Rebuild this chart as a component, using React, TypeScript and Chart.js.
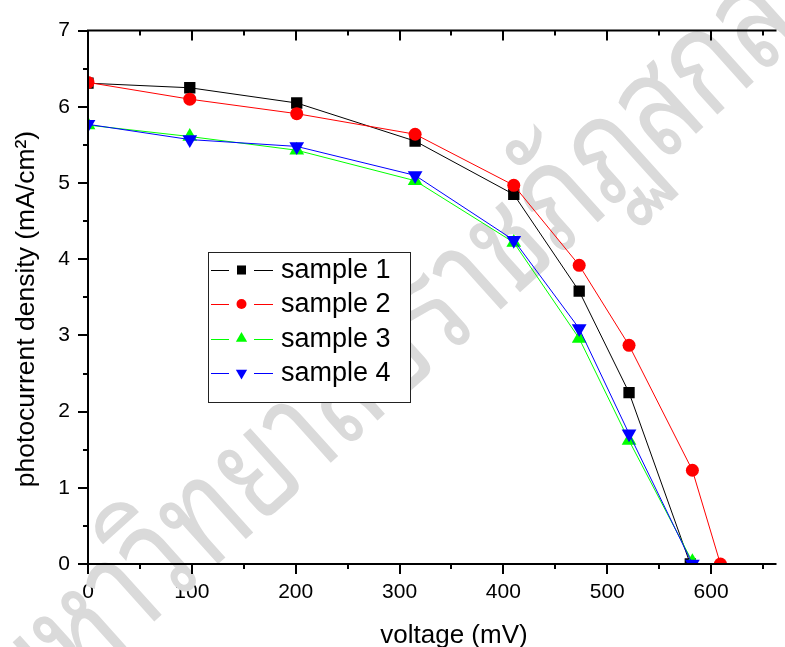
import React, { useEffect, useRef } from "react";
import { Chart, registerables } from "chart.js";

Chart.register(...registerables);

// ---- data ----
const seriesNames = ["sample 1", "sample 2", "sample 3", "sample 4"];
const voltage1 = [0, 98, 201, 315, 410, 473, 521, 580];
const current1 = [6.31, 6.25, 6.05, 5.55, 4.85, 3.58, 2.25, 0];
const voltage2 = [0, 98, 201, 315, 410, 473, 521, 582, 609];
const current2 = [6.32, 6.1, 5.91, 5.64, 4.97, 3.92, 2.87, 1.23, 0];
const voltage3 = [0, 98, 201, 315, 410, 473, 521, 582];
const current3 = [5.76, 5.61, 5.43, 5.03, 4.22, 2.96, 1.62, 0.03];
const voltage4 = [0, 98, 201, 315, 410, 473, 521, 582];
const current4 = [5.77, 5.57, 5.48, 5.1, 4.25, 3.09, 1.71, 0];

const xMajorTicks = [0, 100, 200, 300, 400, 500, 600];
const xMinorTicks = [50, 150, 250, 350, 450, 550, 650];
const yMajorTicks = [0, 1, 2, 3, 4, 5, 6, 7];
const yMinorTicks = [0.5, 1.5, 2.5, 3.5, 4.5, 5.5, 6.5];

const xTitle = "voltage (mV)";
const yTitle = "photocurrent density (mA/cm²)";
const watermarkPrefix = "มหาวิ";
const watermarkRest = "ทยาลัยราชภัฏสกลนคร";

const colors = ["#000000", "#ff0000", "#00ff00", "#0000ff"];
const pointStyles = ["rect", "circle", "triangle", "triangle"];
const pointRotations = [0, 0, 0, 180];
const pointRadii = [8, 6.5, 8.5, 8.5];

const FONT = "Arial, 'Liberation Sans', sans-serif";
const THAI_FONT =
  "'Noto Sans Thai Looped', 'Noto Serif Thai', Tahoma, Loma, Garuda, Norasi, Sawasdee, 'Noto Sans Thai', sans-serif";

function drawMarker(ctx: CanvasRenderingContext2D, style: string, rot: number, x: number, y: number, r: number) {
  ctx.beginPath();
  if (style === "rect") {
    const s = Math.SQRT1_2 * r;
    ctx.rect(x - s, y - s, 2 * s, 2 * s);
  } else if (style === "circle") {
    ctx.arc(x, y, r, 0, Math.PI * 2);
  } else {
    const sgn = rot === 180 ? -1 : 1;
    const w = r * Math.sin(Math.PI / 3);
    ctx.moveTo(x, y - sgn * r);
    ctx.lineTo(x + w, y + sgn * r / 2);
    ctx.lineTo(x - w, y + sgn * r / 2);
    ctx.closePath();
  }
  ctx.fill();
}

const decorPlugin = {
  id: "decor",
  beforeDatasetsDraw(chart: any) {
    const ctx: CanvasRenderingContext2D = chart.ctx;
    const ang = (42 * Math.PI) / 180;
    ctx.save();
    ctx.font = `110px ${THAI_FONT}`;
    const w = ctx.measureText(watermarkPrefix).width;
    const ox = 207 - w * Math.cos(ang);
    const oy = 574 + w * Math.sin(ang);
    ctx.translate(ox, oy);
    ctx.rotate(-ang);
    ctx.scale(1, 1.3);
    ctx.fillStyle = "#dadada";
    ctx.textAlign = "left";
    ctx.textBaseline = "alphabetic";
    ctx.fillText(watermarkPrefix + watermarkRest, 0, 0);
    ctx.restore();
  },
  afterDatasetsDraw(chart: any) {
    const ctx: CanvasRenderingContext2D = chart.ctx;
    const { left, right, top, bottom } = chart.chartArea;
    const xs = chart.scales.x;
    const ys = chart.scales.y;
    ctx.save();
    ctx.strokeStyle = "#000";
    ctx.lineWidth = 2;
    ctx.beginPath();
    ctx.moveTo(right, top);
    ctx.lineTo(left, top);
    ctx.lineTo(left, bottom);
    ctx.lineTo(right, bottom);
    ctx.stroke();
    ctx.beginPath();
    xMajorTicks.forEach((v) => {
      const p = Math.round(xs.getPixelForValue(v));
      ctx.moveTo(p, bottom);
      ctx.lineTo(p, bottom + 10);
      ctx.moveTo(p, top);
      ctx.lineTo(p, top + 10);
    });
    xMinorTicks.forEach((v) => {
      const p = Math.round(xs.getPixelForValue(v));
      ctx.moveTo(p, bottom);
      ctx.lineTo(p, bottom + 5);
      ctx.moveTo(p, top);
      ctx.lineTo(p, top + 5);
    });
    yMajorTicks.forEach((v) => {
      const p = Math.round(ys.getPixelForValue(v));
      ctx.moveTo(left - 10, p);
      ctx.lineTo(left, p);
    });
    yMinorTicks.forEach((v) => {
      const p = Math.round(ys.getPixelForValue(v));
      ctx.moveTo(left - 5, p);
      ctx.lineTo(left, p);
    });
    ctx.stroke();

    // axis titles
    ctx.fillStyle = "#000";
    ctx.font = `26px ${FONT}`;
    ctx.textAlign = "center";
    ctx.textBaseline = "alphabetic";
    ctx.fillText(xTitle, 454, 643);
    ctx.save();
    ctx.translate(34, 309);
    ctx.rotate(-Math.PI / 2);
    ctx.font = `26.5px ${FONT}`;
    ctx.fillText(yTitle, 0, 0);
    ctx.restore();

    // legend
    const lx = 208, ly = 252, lw = 202, lh = 150;
    ctx.fillStyle = "#fff";
    ctx.fillRect(lx, ly, lw, lh);
    ctx.lineWidth = 1;
    ctx.strokeStyle = "#222";
    ctx.strokeRect(lx + 0.5, ly + 0.5, lw, lh);
    const rowY = [270, 304, 338.5, 373];
    const legendR = [6.4, 5, 6.5, 6.5];
    chart.data.datasets.forEach((ds: any, i: number) => {
      const yy = rowY[i];
      ctx.strokeStyle = colors[i];
      ctx.lineWidth = 1;
      ctx.beginPath();
      ctx.moveTo(211, Math.round(yy) + 0.5);
      ctx.lineTo(229, Math.round(yy) + 0.5);
      ctx.moveTo(254, Math.round(yy) + 0.5);
      ctx.lineTo(273, Math.round(yy) + 0.5);
      ctx.stroke();
      ctx.fillStyle = colors[i];
      drawMarker(ctx, pointStyles[i], pointRotations[i], 241.5, yy, legendR[i]);
      ctx.fillStyle = "#000";
      ctx.font = `27px ${FONT}`;
      ctx.textAlign = "left";
      ctx.textBaseline = "middle";
      ctx.fillText(ds.label, 281, yy + 1);
    });
    ctx.restore();
  },
};

export default function App() {
  const ref = useRef<HTMLCanvasElement>(null);
  useEffect(() => {
    if (!ref.current) return;
    const xs = [voltage1, voltage2, voltage3, voltage4];
    const ys = [current1, current2, current3, current4];
    const chart = new Chart(ref.current, {
      type: "line",
      data: {
        datasets: seriesNames.map((name, i) => ({
          label: name,
          data: xs[i].map((x, j) => ({ x, y: ys[i][j] })),
          borderColor: colors[i],
          backgroundColor: colors[i],
          borderWidth: 1,
          pointStyle: pointStyles[i] as any,
          pointRotation: pointRotations[i],
          pointRadius: pointRadii[i],
          pointBorderWidth: 0,
          pointBackgroundColor: colors[i],
          pointBorderColor: colors[i],
          tension: 0,
          order: 4 - i,
          clip: 0,
        })),
      },
      options: {
        animation: false,
        responsive: false,
        events: [],
        layout: { padding: { top: 20, left: 0, right: 0, bottom: 0 } },
        plugins: { legend: { display: false }, tooltip: { enabled: false } },
        scales: {
          x: {
            type: "linear",
            min: 0,
            max: 663,
            afterBuildTicks: (s: any) => {
              s.ticks = xMajorTicks.map((v) => ({ value: v }));
            },
            afterFit: (s: any) => {
              s.height = 83;
            },
            grid: { display: false, drawTicks: false },
            border: { display: false },
            ticks: {
              color: "#000",
              font: { family: FONT, size: 21 },
              padding: 16,
              maxRotation: 0,
              autoSkip: false,
            },
          },
          y: {
            type: "linear",
            min: 0,
            max: 7,
            afterBuildTicks: (s: any) => {
              s.ticks = yMajorTicks.map((v) => ({ value: v }));
            },
            afterFit: (s: any) => {
              s.width = 88;
            },
            grid: { display: false, drawTicks: false },
            border: { display: false },
            ticks: {
              color: "#000",
              font: { family: FONT, size: 21 },
              padding: 18,
              autoSkip: false,
            },
          },
        },
      },
      plugins: [decorPlugin],
    });
    return () => chart.destroy();
  }, []);
  return (
    <div style={{ position: "absolute", left: 0, top: 0, width: 785, height: 647, background: "#fff" }}>
      <canvas ref={ref} width={785} height={647} style={{ display: "block" }} />
    </div>
  );
}
